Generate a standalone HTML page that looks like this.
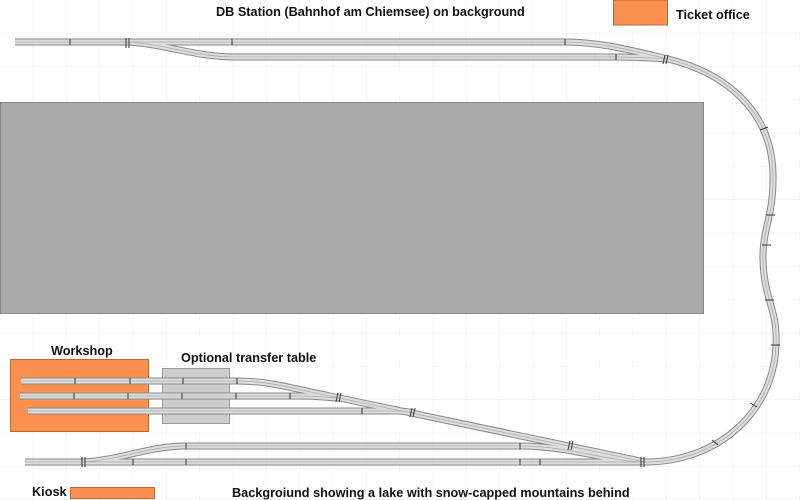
<!DOCTYPE html>
<html><head><meta charset="utf-8"><style>
html,body{margin:0;padding:0;background:#fff}
svg{display:block}
text{font-family:"Liberation Sans",sans-serif;font-weight:bold;font-size:12.7px;fill:#111}
</style></head><body>
<svg width="800" height="500" viewBox="0 0 800 500" xmlns="http://www.w3.org/2000/svg">
<defs>
<pattern id="g" width="33.33" height="33.33" patternUnits="userSpaceOnUse">
<path d="M33.33 0V33.33M0 33.33H33.33" stroke="#ececec" stroke-width="1" fill="none"/>
</pattern>
</defs>
<rect width="800" height="500" fill="url(#g)"/>
<rect x="0.5" y="102.5" width="703" height="211" fill="#aaa" stroke="#888"/>
<rect x="10.5" y="359.5" width="138" height="72" fill="#fa9150" stroke="#b96a3a"/>
<rect x="162.5" y="368.5" width="67" height="55" fill="#ccc" stroke="#999"/>
<rect x="70.5" y="487.5" width="84" height="11" fill="#fa9150" stroke="#b96a3a"/>
<rect x="613.5" y="0" width="54" height="25" fill="#fa9150" stroke="#b96a3a"/>
<text x="216" y="16">DB Station (Bahnhof am Chiemsee) on background</text>
<text x="676" y="19">Ticket office</text>
<text x="51" y="355">Workshop</text>
<text x="181" y="362">Optional transfer table</text>
<text x="32" y="496">Kiosk</text>
<text x="232" y="497">Backgroiund showing a lake with snow-capped mountains behind</text>
<g fill="none" stroke-linecap="butt">
<g stroke="#888" stroke-width="7">
<path d="M15 42H565C600 42 630 50 668 59C725 73 772 110 773 175C774 215 762 230 763 260C764 300 778 310 776 345C774 410 720 462 645 462H25"/>
<path d="M128 42C165 44 195 57 235 57H615C640 57 650 58 668 59"/>
<path d="M83 462C120 460 150 446 185 446H520C570 446 610 462 645 462"/>
<path d="M21 381H237C270 381 290 388 330 396L645 462"/>
<path d="M20 396H300C320 396 330 398 340 398"/>
<path d="M28 411H395C405 411 410 412 415 413"/>
</g>
<g stroke="#dedede" stroke-width="5">
<path d="M15 42H565C600 42 630 50 668 59C725 73 772 110 773 175C774 215 762 230 763 260C764 300 778 310 776 345C774 410 720 462 645 462H25"/>
<path d="M128 42C165 44 195 57 235 57H615C640 57 650 58 668 59"/>
<path d="M83 462C120 460 150 446 185 446H520C570 446 610 462 645 462"/>
<path d="M21 381H237C270 381 290 388 330 396L645 462"/>
<path d="M20 396H300C320 396 330 398 340 398"/>
<path d="M28 411H395C405 411 410 412 415 413"/>
</g>
<g stroke="#aaa" stroke-width="0.8">
<path d="M15 42H565C600 42 630 50 668 59C725 73 772 110 773 175C774 215 762 230 763 260C764 300 778 310 776 345C774 410 720 462 645 462H25"/>
<path d="M128 42C165 44 195 57 235 57H615C640 57 650 58 668 59"/>
<path d="M83 462C120 460 150 446 185 446H520C570 446 610 462 645 462"/>
<path d="M21 381H237C270 381 290 388 330 396L645 462"/>
<path d="M20 396H300C320 396 330 398 340 398"/>
<path d="M28 411H395C405 411 410 412 415 413"/>
</g>
<g stroke="#333" stroke-width="1">
<path d="M70 39v6M232 39v6M565 39v6M616 54v6M75 378v6M130 378v6M183 378v6M237 378v6M74 393v6M128 393v6M182 393v6M236 393v6M290 393v6M362 408v6M520 443v6M520 459v6M540 459v6M186 443v6M186 459v6M133 459v6M760 130l8-3M766 215h9M762 245h9M765 300h9M771 345h9M750 403l7 4M712 440l6 5"/>
<path d="M126 38v10M129 38v10M82 457v10M85 457v10M641 457v10M644 457v10M665 55l-2 9M668 55l-2 9M338 393l-2 9M341 393l-2 9M412 408l-2 9M415 408l-2 9M570 441l-2 9M573 441l-2 9"/>
</g>
</g>
</svg>
</body></html>
